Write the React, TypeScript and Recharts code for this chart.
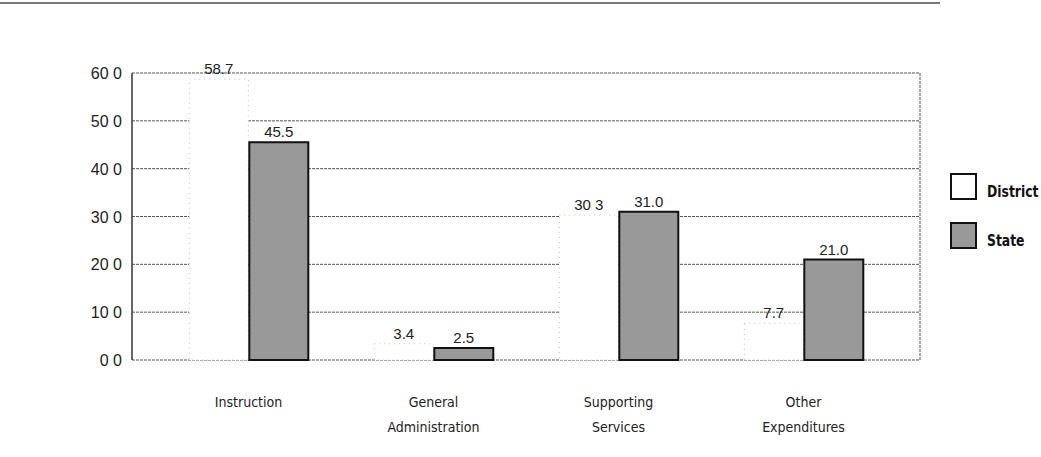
import React from "react";
import {
  BarChart,
  Bar,
  XAxis,
  YAxis,
  CartesianGrid,
  LabelList,
} from "recharts";

const categories = [
  ["Instruction"],
  ["General", "Administration"],
  ["Supporting", "Services"],
  ["Other", "Expenditures"],
];
const districtValues = [58.7, 3.4, 30.3, 7.7];
const stateValues = [45.5, 2.5, 31.0, 21.0];
const districtLabels = ["58.7", "3.4", "30 3", "7.7"];
const stateLabels = ["45.5", "2.5", "31.0", "21.0"];
const yTicks = [0, 10, 20, 30, 40, 50, 60];
const yTickLabels = ["0 0", "10 0", "20 0", "30 0", "40 0", "50 0", "60 0"];
const seriesNames = ["District", "State"];

const data = categories.map((c, i) => ({
  name: c.join(" "),
  district: districtValues[i],
  state: stateValues[i],
  districtLabel: districtLabels[i],
  stateLabel: stateLabels[i],
}));

const NARROW = "'DejaVu Sans Condensed', 'DejaVu Sans', sans-serif";
const SANS = "'Liberation Sans', Arial, sans-serif";

const CatTick = (props: any) => {
  const { x, y, payload, index } = props;
  const lines: string[] = categories[index] || [String(payload.value)];
  return (
    <text
      x={x}
      y={y}
      textAnchor="middle"
      fontFamily={NARROW}
      fontSize={14}
      fill="#222"
      style={{ fontStretch: "condensed" }}
    >
      {lines.map((l, i) => (
        <tspan key={i} x={x} y={y + 47 + i * 25}>
          {l}
        </tspan>
      ))}
    </text>
  );
};

const YTick = (props: any) => {
  const { x, y, payload } = props;
  const idx = yTicks.indexOf(payload.value);
  return (
    <text x={x} y={y} dy={6} textAnchor="end" fontFamily={SANS} fontSize={16} fill="#222">
      {idx >= 0 ? yTickLabels[idx] : payload.value}
    </text>
  );
};

const LegendBlock = () => (
  <div style={{ position: "absolute", left: 950, top: 173, width: 91, height: 80 }}>
    {seriesNames.map((n, i) => (
      <div
        key={n}
        style={{
          position: "absolute",
          left: 0,
          top: i * 49,
          display: "flex",
          alignItems: "flex-end",
          height: 27,
        }}
      >
        <div
          style={{
            width: 23,
            height: 23,
            border: "2px solid #111",
            background: i === 0 ? "#fff" : "#999",
            flex: "none",
          }}
        />
        <span
          style={{
            marginLeft: 10,
            display: "inline-block",
            transform: "scaleX(0.86)",
            transformOrigin: "left bottom",
            fontFamily: NARROW,
            fontStretch: "condensed",
            fontWeight: "bold",
            fontSize: 16,
            lineHeight: "16px",
            color: "#111",
            whiteSpace: "nowrap",
          }}
        >
          {n}
        </span>
      </div>
    ))}
  </div>
);

export default function App() {
  return (
    <div style={{ position: "absolute", left: 0, top: 0, width: 1041, height: 457, background: "#fff" }}>
      <div
        style={{
          position: "absolute",
          left: 0,
          top: 2,
          width: 940,
          height: 1.5,
          background: "#777",
        }}
      />
      <BarChart
        width={1041}
        height={457}
        data={data}
        margin={{ top: 73, right: 121, bottom: 0, left: 0 }}
        barCategoryGap="18%"
        barGap={1}
      >
        <CartesianGrid
          horizontal={true}
          vertical={true}
          verticalPoints={[920]}
          stroke="#555"
          strokeDasharray="3 1"
        />
        <XAxis
          dataKey="name"
          height={97}
          axisLine={false}
          tickLine={false}
          tickSize={0}
          tickMargin={0}
          interval={0}
          padding={{ left: 24, right: 24 }}
          tick={<CatTick />}
        />
        <YAxis
          width={132}
          domain={[0, 60]}
          ticks={yTicks}
          axisLine={{ stroke: "#333", strokeWidth: 1.5 }}
          tickLine={false}
          tickSize={0}
          tickMargin={10}
          tick={<YTick />}
        />
        <Bar
          dataKey="district"
          name="District"
          fill="#fff"
          stroke="#bbb"
          strokeDasharray="1 4"
          isAnimationActive={false}
        >
          <LabelList dataKey="districtLabel" position="top" fill="#222" fontFamily={SANS} fontSize={15} />
        </Bar>
        <Bar
          dataKey="state"
          name="State"
          fill="#999"
          stroke="#111"
          strokeWidth={2}
          isAnimationActive={false}
        >
          <LabelList dataKey="stateLabel" position="top" fill="#222" fontFamily={SANS} fontSize={15} />
        </Bar>
      </BarChart>
      <LegendBlock />
    </div>
  );
}
